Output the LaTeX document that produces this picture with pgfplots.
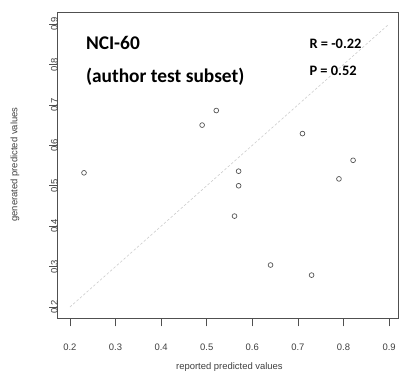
\documentclass[border=0pt]{standalone}
\usepackage{fontspec}
\setmainfont{Liberation Sans}
\newfontfamily\calfont{Carlito}
\usepackage{pgfplots}
\pgfplotsset{compat=1.18}
\definecolor{axgray}{HTML}{505050}
\definecolor{ptgray}{HTML}{555555}
\begin{document}
\begin{tikzpicture}
\begin{axis}[
  name=ax,
  at={(0,0)}, anchor=south west,
  scale only axis,
  width=341.7bp, height=306.3bp,
  xmin=0.1722, xmax=0.92,
  ymin=0.172, ymax=0.928,
  axis line style={color=axgray, line width=0.8pt},
  xtick={0.2,0.3,...,0.9}, ytick={0.2,0.3,...,0.9},
  xtick pos=bottom, ytick pos=left,
  tick align=outside,
  major tick length=8bp,
  tick style={color=axgray, line width=0.7pt},
  /pgf/number format/assume math mode=true,
  /pgf/number format/.cd, fixed, precision=1, fixed zerofill, /pgfplots/.cd,
  ticklabel style={font=\fontsize{9.5}{11}\selectfont, text=black!75},
  xticklabel style={anchor=north},
  yticklabel style={rotate=90, anchor=south},
  xticklabel shift=13.6bp,
  yticklabel shift=-12bp,
  xlabel={reported predicted values},
  ylabel={generated predicted values},
  label style={font=\fontsize{9.5}{11}\selectfont, text=black!75},
  xlabel style={at={(axis description cs:0.505,-0.1469)}, anchor=center, yshift=-4bp},
  ylabel style={at={(axis description cs:-0.1238,0.503)}, anchor=center},
  clip=false,
]
\addplot[color=black!20, dash pattern=on 2.5bp off 2bp, line width=0.6pt] coordinates {(0.2,0.2) (0.9,0.9)};
\addplot[only marks, mark=o, mark size=2.4bp, mark options={color=ptgray, line width=0.7pt}] coordinates {
(0.231,0.532) (0.490,0.650) (0.521,0.686) (0.710,0.629) (0.570,0.536)
(0.570,0.500) (0.561,0.425) (0.790,0.517) (0.821,0.563) (0.640,0.304)
(0.730,0.279)};
\node[anchor=west, font=\calfont\bfseries\fontsize{19.5}{22}\selectfont, inner sep=0pt] at (axis cs:0.235,0.854) {NCI-60};
\node[anchor=west, font=\calfont\bfseries\fontsize{19.5}{22}\selectfont, inner sep=0pt] at (axis cs:0.235,0.770) {(author test subset)};
\node[anchor=west, font=\calfont\bfseries\fontsize{14.5}{17}\selectfont, inner sep=0pt] at (axis cs:0.725,0.852) {R = -0.22};
\node[anchor=west, font=\calfont\bfseries\fontsize{14.5}{17}\selectfont, inner sep=0pt] at (axis cs:0.725,0.785) {P = 0.52};
\end{axis}
\path (-57.3bp,-54bp) rectangle (341.7bp,319bp);
\end{tikzpicture}
\end{document}
